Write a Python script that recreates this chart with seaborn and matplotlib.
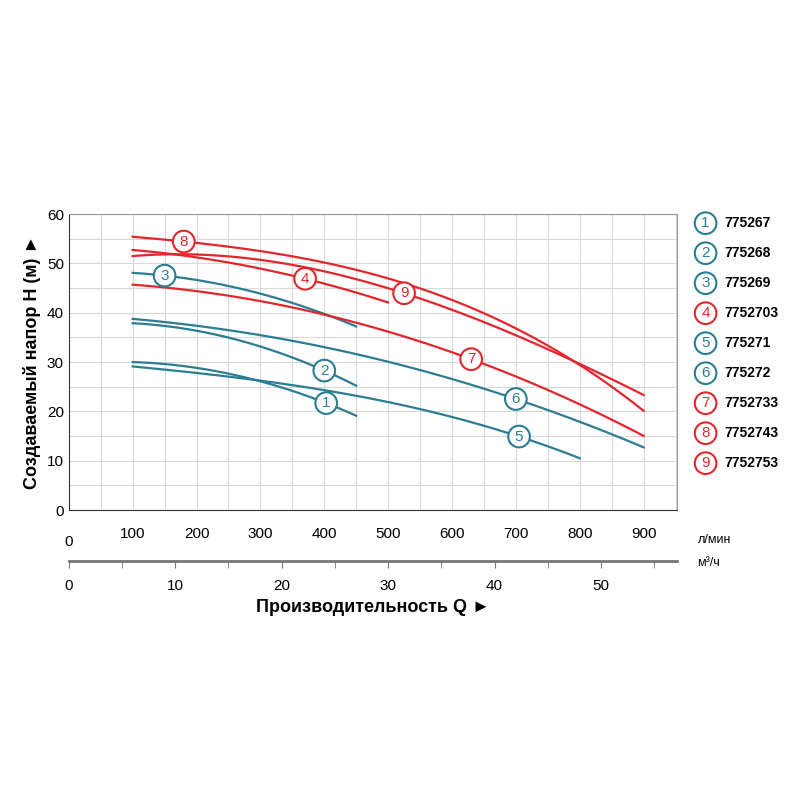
import numpy as np
import matplotlib.pyplot as plt
import seaborn as sns

TEAL = "#2b7d92"
RED = "#e3262c"

# flow Q (l/min) and head H (m)
q_short = [100, 200, 300, 400, 450]
q_500 = [100, 200, 300, 400, 500]
q_800 = [100, 200, 300, 400, 500, 600, 700, 800]
q_900 = [100, 200, 300, 400, 500, 600, 700, 800, 900]

h1 = [30.0, 28.8, 26.0, 22.0, 19.0]
h2 = [38.0, 36.0, 33.3, 28.5, 25.0]
h3 = [48.2, 46.3, 44.0, 40.0, 37.0]
h4 = [52.8, 51.0, 49.0, 46.0, 42.0]
h5 = [29.0, 28.0, 26.2, 24.0, 22.0, 19.0, 15.0, 10.5]
h6 = [39.0, 37.0, 35.2, 33.0, 30.5, 27.0, 22.0, 17.5, 13.0]
h7 = [45.7, 44.3, 42.3, 39.8, 36.0, 32.0, 27.0, 21.5, 15.0]
h8 = [55.2, 54.5, 52.5, 50.0, 46.8, 42.5, 37.0, 29.5, 20.0]
h9 = [51.8, 51.3, 50.3, 48.8, 45.5, 40.5, 35.0, 29.5, 23.5]

models = ["775267", "775268", "775269", "7752703", "775271",
          "775272", "7752733", "7752743", "7752753"]
label_q = [403, 400, 150, 370, 705, 700, 630, 180, 525]

curves = [(q_short, h1, TEAL), (q_short, h2, TEAL), (q_short, h3, TEAL),
          (q_500, h4, RED), (q_800, h5, TEAL), (q_900, h6, TEAL),
          (q_900, h7, RED), (q_900, h8, RED), (q_900, h9, RED)]

plt.rcParams["font.family"] = "Liberation Sans"
fig = plt.figure(figsize=(8, 8), dpi=100)
ax = fig.add_axes([0.086, 0.3625, 0.76, 0.37])

for i, (q, h, c) in enumerate(curves):
    # smooth the read points with a low-order fit
    qq = np.linspace(q[0], q[-1], 100)
    coef = np.polyfit(q, h, 3 if len(q) > 5 else 2)
    sns.lineplot(x=qq, y=np.polyval(coef, qq), color=c, lw=1.6, ax=ax)
    lq = label_q[i]
    ly = np.polyval(coef, lq)
    ax.text(lq, ly, str(i + 1), ha="center", va="center", fontsize=11,
            color=c, zorder=5,
            bbox=dict(boxstyle="circle,pad=0.25", fc="white", ec=c, lw=1.5))

ax.set_xlim(0, 952)
ax.set_ylim(0, 60)
ax.set_xticks(range(100, 901, 100))
ax.set_xticks(range(50, 951, 50), minor=True)
ax.set_yticks(range(0, 61, 10))
ax.set_yticks(range(5, 60, 5), minor=True)
ax.grid(which="both", color="#d8d8d8", lw=0.8)
ax.set_axisbelow(True)
ax.tick_params(which="both", length=0, labelsize=11)
ax.tick_params(axis="x", pad=12)
for s in ["top", "right"]:
    ax.spines[s].set_color("#999999")
for s in ["left", "bottom"]:
    ax.spines[s].set_color("#333333")
ax.text(0, -6.5, "0", ha="center", va="center", fontsize=11)
ax.set_ylabel("Создаваемый напор H (м) ►", fontsize=13, fontweight="bold")

sec = ax.secondary_xaxis("bottom", functions=(lambda x: x * 0.06, lambda x: x / 0.06))
sec.spines["bottom"].set_position(("outward", 37))
sec.spines["bottom"].set_color("#777777")
sec.spines["bottom"].set_linewidth(2)
sec.set_xticks(range(0, 51, 10))
sec.set_xticks(range(5, 56, 5), minor=True)
sec.tick_params(which="both", length=5, color="#777777", labelsize=11, pad=8)
sec.set_xlabel("Производительность Q ►", fontsize=13, fontweight="bold", labelpad=4)

fig.text(0.872, 0.325, "л/мин", fontsize=9, va="center")
fig.text(0.872, 0.296, "м³/ч", fontsize=9, va="center")

for i, m in enumerate(models):
    c = curves[i][2]
    y = 0.721 - i * 0.0375
    fig.text(0.882, y, str(i + 1), ha="center", va="center",
             fontsize=11, color=c,
             bbox=dict(boxstyle="circle,pad=0.25", fc="white", ec=c, lw=1.5))
    fig.text(0.906, y, m, ha="left", va="center", fontsize=10, fontweight="bold")

fig.savefig("out.png", dpi=100)
